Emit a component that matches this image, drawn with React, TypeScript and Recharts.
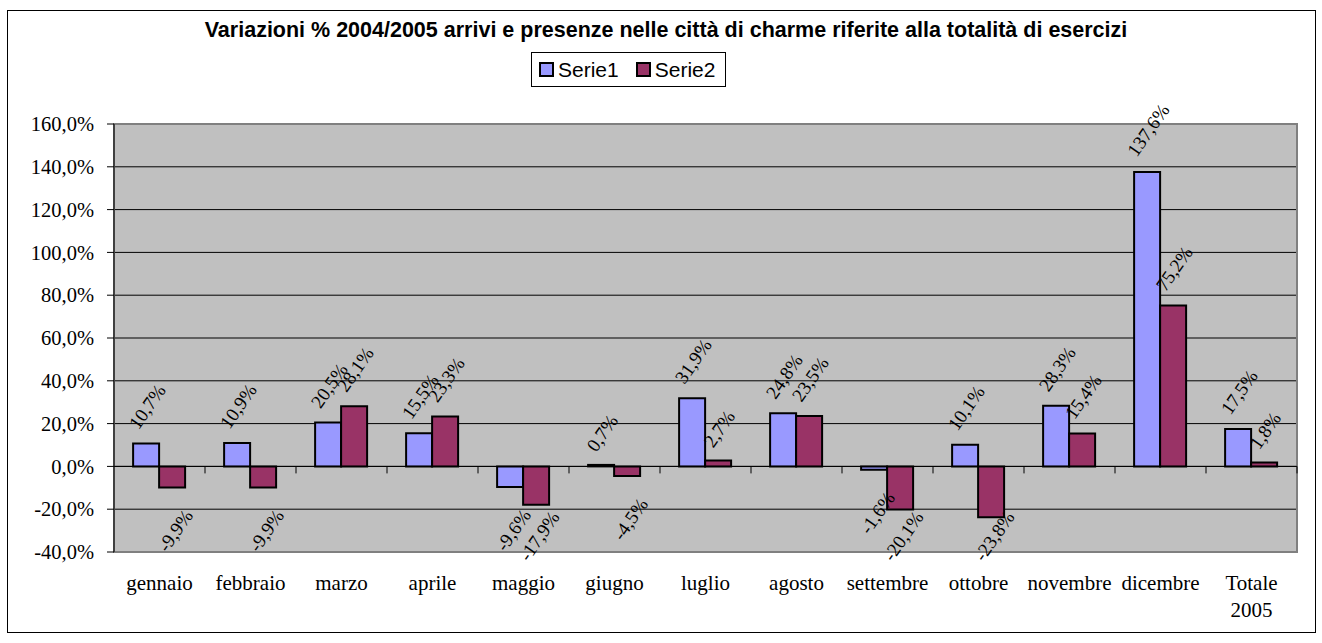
import {
  Bar,
  BarChart,
  CartesianGrid,
  Legend,
  ReferenceArea,
  ReferenceLine,
  XAxis,
  YAxis,
} from 'recharts'

const categories = [
  'gennaio',
  'febbraio',
  'marzo',
  'aprile',
  'maggio',
  'giugno',
  'luglio',
  'agosto',
  'settembre',
  'ottobre',
  'novembre',
  'dicembre',
  'Totale 2005',
]
const serie1 = [10.7, 10.9, 20.5, 15.5, -9.6, 0.7, 31.9, 24.8, -1.6, 10.1, 28.3, 137.6, 17.5]
const serie2 = [-9.9, -9.9, 28.1, 23.3, -17.9, -4.5, 2.7, 23.5, -20.1, -23.8, 15.4, 75.2, 1.8]
const yTicks = [-40, -20, 0, 20, 40, 60, 80, 100, 120, 140, 160]

const TITLE = 'Variazioni % 2004/2005 arrivi e presenze nelle città di charme riferite alla totalità di esercizi'

const data = categories.map((name, i) => ({ name, s1: serie1[i], s2: serie2[i] }))

const CHART_W = 1307
const CHART_H = 621
const MARGIN = { top: 113, right: 18, bottom: 0, left: 0 }
const X_AXIS_H = 80
const PLOT_BOTTOM = CHART_H - MARGIN.bottom - X_AXIS_H

const SERIF = '"Liberation Serif", "Times New Roman", serif'
const SANS = '"Liberation Sans", Arial, sans-serif'

const pct = (v: number) => `${v.toFixed(1).replace('.', ',')}%`

// rotated value label, above positive bars and below negative ones
function BarLabel(props: any) {
  const { x, y, width, height, value } = props
  const v = Number(value)
  const text = pct(v)
  const cx = x + width / 2
  let ly: number
  if (v >= 0) {
    const top = Math.min(y, y + height)
    ly = top - 12 - text.length * 5
  } else {
    const bottom = Math.max(y, y + height)
    ly = Math.min(bottom + 43, PLOT_BOTTOM - 16)
  }
  const lx = cx + (v >= 0 ? 1 : 3)
  return (
    <text
      x={lx}
      y={ly}
      dy="0.35em"
      textAnchor="middle"
      transform={`rotate(-55 ${lx} ${ly})`}
      fontFamily={SERIF}
      fontSize={19}
      fill="#000"
    >
      {text}
    </text>
  )
}

function CategoryTick(props: any) {
  const { x, y, payload } = props
  const words = String(payload.value).split(' ')
  return (
    <text x={x} y={y} textAnchor="middle" fontFamily={SERIF} fontSize={21} fill="#000">
      {words.map((w, i) => (
        <tspan key={i} x={x} dy={i === 0 ? 38 : 27}>
          {w}
        </tspan>
      ))}
    </text>
  )
}

function ZeroLine(props: any) {
  const { x1, x2, y1 } = props
  const step = (x2 - x1) / categories.length
  return (
    <g>
      <line x1={x1} x2={x2} y1={y1} y2={y1} stroke="#000" strokeWidth={1} />
      {categories.map((_, i) => (
        <line
          key={i}
          x1={x1 + step * (i + 1)}
          x2={x1 + step * (i + 1)}
          y1={y1}
          y2={y1 + 7}
          stroke="#000"
          strokeWidth={1}
        />
      ))}
    </g>
  )
}

function LegendBox(props: any) {
  const items = props.payload ?? []
  return (
    <div
      style={{
        display: 'inline-flex',
        alignItems: 'center',
        border: '1px solid #000',
        background: '#fff',
        padding: '0 10px 0 7px',
        height: 33,
        fontFamily: SANS,
        fontSize: 21,
        color: '#000',
      }}
    >
      {items.map((it: any, i: number) => (
        <span
          key={it.value}
          style={{ display: 'flex', alignItems: 'center', marginRight: i < items.length - 1 ? 17 : 0 }}
        >
          <span
            style={{
              width: 11,
              height: 11,
              background: it.color,
              border: '2px solid #000',
              marginRight: 4,
            }}
          />
          {it.value}
        </span>
      ))}
    </div>
  )
}

export default function App() {
  return (
    <div
      style={{
        position: 'absolute',
        left: 7,
        top: 10,
        width: 1309,
        height: 623,
        border: '1px solid #000',
        boxSizing: 'border-box',
        background: '#fff',
      }}
    >
      <div
        style={{
          position: 'absolute',
          top: 7,
          left: 9,
          right: 0,
          textAlign: 'center',
          fontFamily: SANS,
          fontWeight: 'bold',
          fontSize: 21.5,
          lineHeight: '24px',
          color: '#000',
        }}
      >
        {TITLE}
      </div>
      <BarChart
        width={CHART_W}
        height={CHART_H}
        data={data}
        margin={MARGIN}
        barCategoryGap="21%"
        barGap={0}
      >
        <CartesianGrid vertical={false} stroke="#000" fill="#C0C0C0" fillOpacity={1} />
        <ReferenceArea y1={-40} y2={160} fill="none" stroke="#808080" strokeWidth={2} />
        <XAxis
          dataKey="name"
          height={X_AXIS_H}
          interval={0}
          tickSize={0}
          tickMargin={0}
          tickLine={false}
          axisLine={{ stroke: '#808080', strokeWidth: 2 }}
          tick={<CategoryTick />}
        />
        <YAxis
          width={106}
          domain={[-40, 160]}
          ticks={yTicks}
          interval={0}
          tickFormatter={pct}
          tickSize={7}
          tickMargin={13}
          axisLine={{ stroke: '#000' }}
          tickLine={{ stroke: '#000' }}
          tick={{ fontFamily: SERIF, fontSize: 20.5, fill: '#000' }}
        />
        <ReferenceLine y={0} shape={<ZeroLine />} />
        <Legend
          verticalAlign="middle"
          align="center"
          content={<LegendBox />}
          wrapperStyle={{ top: 41, left: 523, width: 'auto', height: 'auto' }}
        />
        <Bar
          dataKey="s1"
          name="Serie1"
          fill="#9999FF"
          stroke="#000"
          strokeWidth={2}
          isAnimationActive={false}
          label={<BarLabel />}
        />
        <Bar
          dataKey="s2"
          name="Serie2"
          fill="#993366"
          stroke="#000"
          strokeWidth={2}
          isAnimationActive={false}
          label={<BarLabel />}
        />
      </BarChart>
    </div>
  )
}
